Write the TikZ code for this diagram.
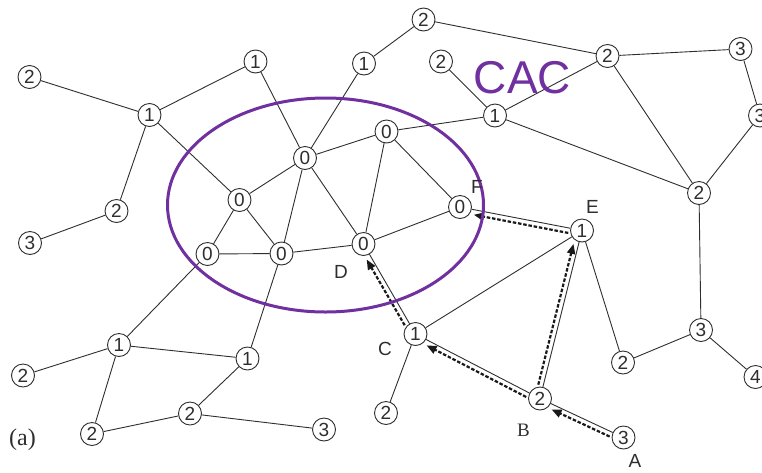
\documentclass[tikz,border=0pt]{standalone}
\usepackage{fontspec}
\setmainfont{Liberation Sans}
\newfontfamily\serifface{Liberation Serif}
\usetikzlibrary{arrows.meta,calc}
\definecolor{cacpurple}{HTML}{7030A0}
\definecolor{ink}{HTML}{2E2E2E}
\newcommand\flowarrow[2]{%
  \draw[flow] ($(#1)!13pt!(#2)!5pt!90:(#2)$) -- ($(#2)!15pt!(#1)!5pt!-90:(#1)$);}
\begin{document}
\begin{tikzpicture}[x=1pt,y=-1pt,
  vtx/.style={circle,draw=ink,line width=0.9pt,fill=white,inner sep=0pt,minimum size=23pt,font=\fontsize{19}{19}\selectfont,text=ink},
  edge/.style={draw=ink,line width=0.9pt},
  flow/.style={draw=black!90,line width=2.2pt,dash pattern=on 3.5pt off 1.8pt,-{Triangle[length=10pt,width=8pt]}},
  lbl/.style={font=\fontsize{19}{19}\selectfont,text=ink},
]
\clip (0,0) rectangle (762,472);
\useasboundingbox (0,0) rectangle (762,472);

% nodes
\node[vtx] (a2) at (29.5,77) {2};
\node[vtx] (a1) at (149.5,115) {1};
\node[vtx] (b1) at (255.5,61.5) {1};
\node[vtx] (b2) at (116.5,211) {2};
\node[vtx] (a3) at (30,243) {3};
\node[vtx] (z1) at (239.5,200) {0};
\node[vtx] (z2) at (305,158) {0};
\node[vtx] (z3) at (386.5,131.5) {0};
\node[vtx] (zF) at (460,207) {0};
\node[vtx] (zD) at (363.5,244) {0};
\node[vtx] (z4) at (281.5,253.5) {0};
\node[vtx] (z5) at (207.5,254) {0};
\node[vtx] (c1) at (364,63.5) {1};
\node[vtx] (c2) at (423.5,19.5) {2};
\node[vtx] (d2) at (441,61.5) {2};
\node[vtx] (d1) at (495,115.5) {1};
\node[vtx] (e2) at (607.5,56) {2};
\node[vtx] (e3) at (740.5,49) {3};
\node[vtx] (f3) at (760,115.5) {3};
\node[vtx] (f2) at (699,193) {2};
\node[vtx] (nE) at (582,230.5) {1};
\node[vtx] (nC) at (415.5,334) {1};
\node[vtx] (g2) at (386,413) {2};
\node[vtx] (nB) at (540,398.5) {2};
\node[vtx] (nA) at (623.5,437.5) {3};
\node[vtx] (h2) at (623,362.5) {2};
\node[vtx] (h3) at (701,330) {3};
\node[vtx] (h4) at (755.5,377) {4};
\node[vtx] (i1) at (119,345) {1};
\node[vtx] (i2) at (23,375.5) {2};
\node[vtx] (j1) at (247.5,358.5) {1};
\node[vtx] (j2) at (190,413.5) {2};
\node[vtx] (k2) at (92,434) {2};
\node[vtx] (k3) at (324,429.5) {3};

% edges
\foreach \u/\v in {a2/a1,a1/b1,a1/b2,b2/a3,a1/z1,b1/z2,z2/c1,c1/c2,c2/e2,d2/d1,d1/e2,d1/z3,d1/f2,
  e2/e3,e2/f2,e3/f3,f3/f2,f2/h3,h3/h2,h3/h4,h2/nE,
  z2/z3,z2/z1,z2/z4,z2/zD,z3/zD,z3/zF,zF/zD,zD/z4,z1/z5,z1/z4,z5/z4,z5/i1,z4/j1,
  i1/i2,i1/j1,i1/k2,k2/j2,j2/j1,j2/k3,
  zD/nC,nC/nE,nC/g2,nC/nB,nB/nE,nE/zF,nA/nB}
  \draw[edge] (\u) -- (\v);

% flow arrows
\flowarrow{nA}{nB}
\flowarrow{nB}{nC}
\flowarrow{nB}{nE}
\flowarrow{nE}{zF}
\flowarrow{nC}{zD}

% CAC ellipse
\draw[cacpurple,line width=3pt] (325.5,205) ellipse [x radius=158, y radius=107];
\node[text=cacpurple,font=\fontsize{46}{46}\selectfont,inner sep=0pt] (cac) at (522.5,78) {CAC};

% labels
\node[lbl,inner sep=0pt] (lF) at (477,187) {F};
\node[lbl,inner sep=0pt] (lE) at (592.5,207) {E};
\node[lbl,inner sep=0pt] (lD) at (341,272) {D};
\node[lbl,inner sep=0pt] (lC) at (385,349) {C};
\node[lbl,font=\serifface\fontsize{19}{19}\selectfont,inner sep=0pt] (lB) at (523.5,430) {B};
\node[lbl,inner sep=0pt] (lA) at (635,460.5) {A};
\node[font=\serifface\fontsize{24}{24}\selectfont,text=ink,inner sep=0pt] (lab) at (22.5,440) {(a)};
\end{tikzpicture}
\end{document}
